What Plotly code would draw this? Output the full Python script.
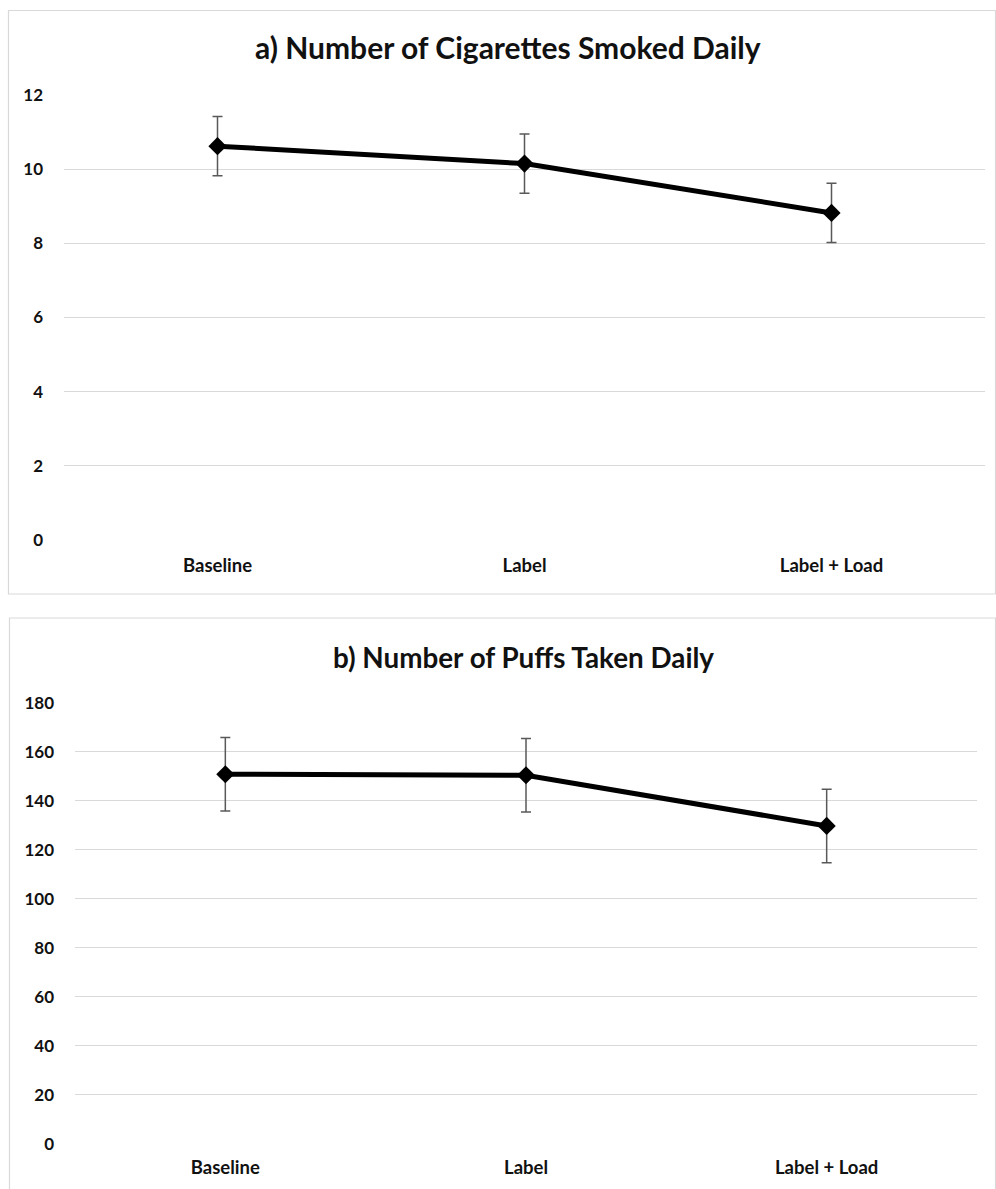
import plotly.graph_objects as go

W, H = 996, 1189

categories = ["Baseline", "Label", "Label + Load"]

cig_means = [10.62, 10.15, 8.82]
cig_err = [0.80, 0.80, 0.80]
cig_ticks = [0, 2, 4, 6, 8, 10, 12]

puff_means = [150.9, 150.5, 129.8]
puff_err = [15.0, 15.0, 15.0]
puff_ticks = [0, 20, 40, 60, 80, 100, 120, 140, 160, 180]

title_a = "a) Number of Cigarettes Smoked Daily"
title_b = "b) Number of Puffs Taken Daily"

FONT = "Lato"
GRID = "#d9d9d9"


def px(x):
    return x / W


def py(y):
    return 1 - y / H


fig = go.Figure()

fig.add_trace(go.Scatter(
    x=categories, y=cig_means, mode="lines+markers",
    line=dict(color="black", width=5),
    marker=dict(symbol="diamond", size=14, color="black"),
    error_y=dict(type="data", array=cig_err, visible=True,
                 color="#595959", thickness=1.5, width=5),
    xaxis="x", yaxis="y", showlegend=False, hoverinfo="skip",
))

fig.add_trace(go.Scatter(
    x=categories, y=puff_means, mode="lines+markers",
    line=dict(color="black", width=5),
    marker=dict(symbol="diamond", size=14, color="black"),
    error_y=dict(type="data", array=puff_err, visible=True,
                 color="#595959", thickness=1.5, width=5),
    xaxis="x2", yaxis="y2", showlegend=False, hoverinfo="skip",
))

ytickfont = dict(family=FONT, size=17, color="#111111", weight="bold")
xtickfont = dict(family=FONT, size=18.5, color="#111111", weight="bold")

xcommon = dict(type="category", range=[-0.5, 2.5], showgrid=False,
               zeroline=False, showline=False, ticks="", tickfont=xtickfont,
               fixedrange=True, automargin=False)
ycommon = dict(showgrid=True, gridcolor=GRID, gridwidth=1, zeroline=False,
               showline=False, ticks="", tickfont=ytickfont, fixedrange=True,
               automargin=False)

fig.update_layout(
    width=W, height=H,
    margin=dict(l=0, r=0, t=0, b=0, pad=0, autoexpand=False),
    paper_bgcolor="white", plot_bgcolor="white",
    xaxis=dict(domain=[px(64), px(985)], anchor="y", ticklabelstandoff=12, **xcommon),
    yaxis=dict(domain=[py(540), py(95)], anchor="x", range=[0, 12],
               tickvals=cig_ticks, ticklabelstandoff=20, **ycommon),
    xaxis2=dict(domain=[px(75), px(977)], anchor="y2", ticklabelstandoff=11, **xcommon),
    yaxis2=dict(domain=[py(1143.7), py(703)], anchor="x2", range=[0, 180],
                tickvals=puff_ticks, ticklabelstandoff=20, **ycommon),
    shapes=[
        dict(type="rect", xref="paper", yref="paper",
             x0=px(8.5), x1=px(995.5), y0=py(594), y1=py(10.5),
             line=dict(color=GRID, width=1.2), fillcolor="rgba(0,0,0,0)", layer="below"),
        dict(type="rect", xref="paper", yref="paper",
             x0=px(9.5), x1=px(995.5), y0=py(1195), y1=py(618),
             line=dict(color=GRID, width=1.2), fillcolor="rgba(0,0,0,0)", layer="below"),
    ],
    annotations=[
        dict(text=title_a, xref="paper", yref="paper", x=px(508), y=py(47),
             xanchor="center", yanchor="middle", showarrow=False,
             font=dict(family=FONT, size=30, color="#111111", weight="bold")),
        dict(text=title_b, xref="paper", yref="paper", x=px(523), y=py(657),
             xanchor="center", yanchor="middle", showarrow=False,
             font=dict(family=FONT, size=27.8, color="#111111", weight="bold")),
    ],
)

fig.write_html(
    "out.html",
    config={"displayModeBar": False},
    post_script="var gd=document.getElementById('{plot_id}');"
                "gd.style.position='fixed';gd.style.top='0px';gd.style.left='0px';"
                "document.documentElement.style.margin='0';"
                "document.body.style.margin='0';"
                "document.body.style.overflow='hidden';",
)
